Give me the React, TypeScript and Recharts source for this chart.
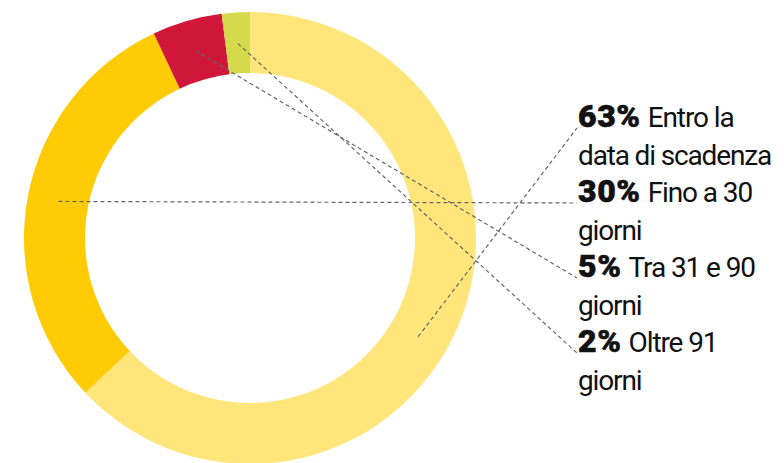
import React from 'react';
import { PieChart, Pie, Cell } from 'recharts';

const categories = ['Entro la data di scadenza', 'Fino a 30 giorni', 'Tra 31 e 90 giorni', 'Oltre 91 giorni'];
const shares = [63, 30, 5, 2];
const labelFirstLines = ['Entro la', 'Fino a 30', 'Tra 31 e 90', 'Oltre 91'];
const labelSecondLines = ['data di scadenza', 'giorni', 'giorni', 'giorni'];

const COLORS = ['#FFE57A', '#FFCB05', '#D0173A', '#D4DA4C'];
const ANCHOR_SHIFT = [-7, 0, 0, 0];
const FONT = 'Roboto, "Noto Sans", sans-serif';

const data = categories.map((name, i) => ({ name, value: shares[i] }));

const renderLabel = (props: any) => {
  const { cx, cy, index, startAngle, endAngle } = props;
  const mid = props.midAngle !== undefined ? props.midAngle : (startAngle + endAngle) / 2;
  const RAD = Math.PI / 180;
  const ang = (mid + ANCHOR_SHIFT[index]) * RAD;
  const r = 195;
  const sx = cx + r * Math.cos(ang);
  const sy = cy - r * Math.sin(ang);
  const tx = 570;
  const ty = 119 + index * 75;
  return (
    <g key={`lbl-${index}`}>
      <line x1={sx} y1={sy} x2={tx - 1} y2={ty + 1} stroke="#666" strokeWidth={1.2} strokeDasharray="4 3" />
      <text x={tx} y={ty} fill="#111" fontFamily={FONT} fontSize={28} letterSpacing={-1.1}>
        <tspan fontWeight={900} fontSize={32} letterSpacing={0.6} stroke="#111" strokeWidth={0.6}>{`${shares[index]}%`}</tspan>
        <tspan dx={7}>{labelFirstLines[index]}</tspan>
      </text>
      <text x={tx} y={ty + 37.5} fill="#111" fontFamily={FONT} fontSize={28} letterSpacing={-1.15}>
        {labelSecondLines[index]}
      </text>
    </g>
  );
};

export default function App() {
  return (
    <div style={{ width: 776, height: 455 }}>
      <PieChart width={776} height={455} margin={{ top: 0, right: 0, bottom: 0, left: 0 }}>
        <Pie
          data={data}
          dataKey="value"
          nameKey="name"
          cx={242}
          cy={230}
          innerRadius={165}
          outerRadius={226}
          startAngle={90}
          endAngle={-270}
          stroke="none"
          isAnimationActive={false}
          label={renderLabel}
          labelLine={false}
        >
          {data.map((d, i) => (
            <Cell key={d.name} fill={COLORS[i]} />
          ))}
        </Pie>
      </PieChart>
    </div>
  );
}
